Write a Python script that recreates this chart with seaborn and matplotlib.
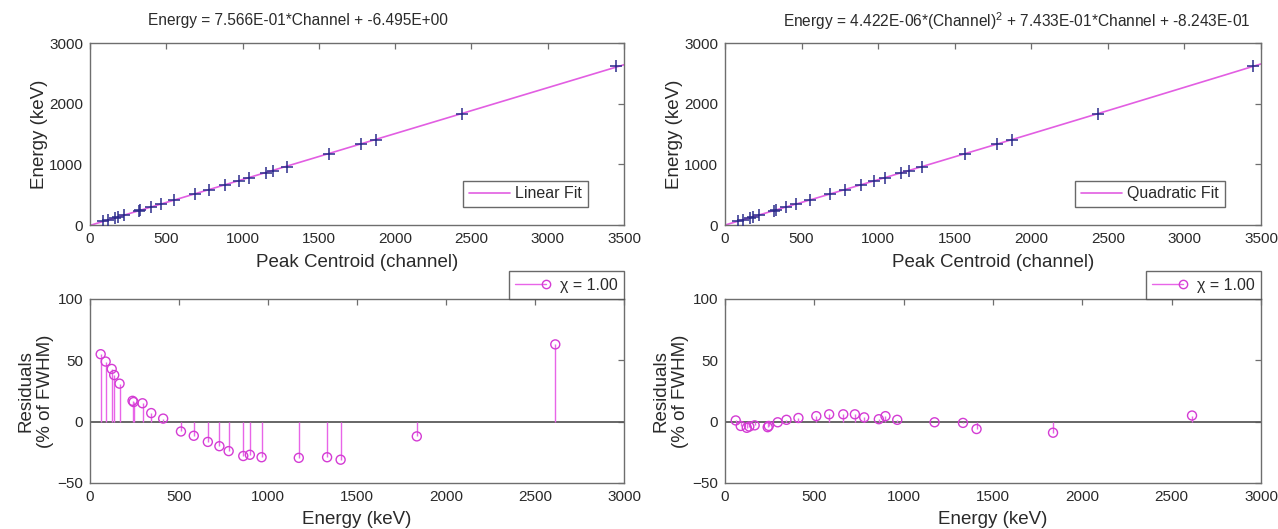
import numpy as np
import pandas as pd
import matplotlib
matplotlib.use("Agg")
import matplotlib.pyplot as plt
from matplotlib.lines import Line2D
from matplotlib.legend_handler import HandlerBase
import seaborn as sns

# Calibration peaks: gamma-line energy (keV) and fitted peak centroid (channel)
energy_kev = [60, 88, 122, 136, 166, 239, 245, 295, 344, 411, 511, 583, 662,
              727, 779, 861, 898, 964, 1173, 1332, 1408, 1836, 2614]
centroid_ch = [82, 119, 165, 184, 224, 322, 330, 397, 463, 552, 686, 782, 887,
               974, 1043, 1152, 1201, 1288, 1565, 1774, 1874, 2436, 3447]

# Residuals of each fit, in percent of peak FWHM
resid_linear = [55, 49, 43, 38, 31, 17, 16, 15, 7, 2.5, -8, -11.5, -16.5,
                -20, -24, -28, -27, -29, -29.5, -29, -31, -12, 63]
resid_quad = [1.0, -3.5, -5.0, -4.0, -3.0, -4.5, -3.5, -0.5, 1.5, 3.0, 4.5, 6.0,
              6.0, 6.0, 3.5, 2.0, 4.5, 1.5, -0.5, -1.0, -6.0, -9.0, 5.0]

# Fit coefficients (as printed in the panel titles)
lin_a, lin_b = 7.566e-01, -6.495e+00
quad_a, quad_b, quad_c = 4.422e-06, 7.433e-01, -8.243e-01

lin_title = "Energy = 7.566E-01*Channel + -6.495E+00"
quad_title = r"Energy = 4.422E-06*(Channel)$^{2}$ + 7.433E-01*Channel + -8.243E-01"
chi_label = "\u03c7 = 1.00"

sns.set_style("white")
plt.rcParams["font.family"] = ["Liberation Sans", "DejaVu Sans"]
plt.rcParams["mathtext.fontset"] = "custom"
plt.rcParams["mathtext.rm"] = "Liberation Sans"

FIT_COLOR = "#e25ee2"
STEM_COLOR = "#e865e8"
CIRC_COLOR = "#d43cd4"
PLUS_COLOR = "#2c2c8c"
AX_COLOR = "#6e6e6e"
TXT_COLOR = "#2a2a2a"
TICK_FS = 11
LABEL_FS = 13.5
TITLE_FS = 11.2
LEG_FS = 11.5

W, H = 1278, 529
fig = plt.figure(figsize=(W / 100, H / 100), dpi=100)


def px_axes(left, top, right, bottom):
    return fig.add_axes([left / W, 1 - bottom / H, (right - left) / W, (bottom - top) / H])


ax_tl = px_axes(90, 43, 624, 225)
ax_tr = px_axes(725, 43, 1261, 225)
ax_bl = px_axes(90, 299, 624, 483)
ax_br = px_axes(725, 299, 1261, 483)

cal = pd.DataFrame({"energy": energy_kev, "channel": centroid_ch,
                    "res_lin": resid_linear, "res_quad": resid_quad})
grid = pd.DataFrame({"channel": np.linspace(0, 3500, 300)})
grid["lin"] = lin_a * grid["channel"] + lin_b
grid["quad"] = quad_a * grid["channel"] ** 2 + quad_b * grid["channel"] + quad_c


def style_axes(ax):
    for s in ax.spines.values():
        s.set_color(AX_COLOR)
        s.set_linewidth(1.0)
    ax.tick_params(direction="in", top=True, right=True, length=4, width=0.9,
                   color=AX_COLOR, labelsize=TICK_FS, labelcolor=TXT_COLOR, pad=5)


# --- Calibration panels -------------------------------------------------------
for ax, col, lab, title, tx in [(ax_tl, "lin", "Linear Fit", lin_title, 298),
                                (ax_tr, "quad", "Quadratic Fit", quad_title, 1017)]:
    sns.lineplot(data=grid, x="channel", y=col, ax=ax, color=FIT_COLOR, lw=1.2,
                 label=lab, zorder=2)
    sns.scatterplot(data=cal, x="channel", y="energy", ax=ax, marker="+", s=70,
                    color=PLUS_COLOR, linewidth=1.1, zorder=3)
    ax.set_xlim(0, 3500)
    ax.set_ylim(0, 3000)
    ax.set_xticks(np.arange(0, 3501, 500))
    ax.set_yticks([0, 1000, 2000, 3000])
    ax.set_xlabel("Peak Centroid (channel)", fontsize=LABEL_FS, color=TXT_COLOR, labelpad=6)
    ax.set_ylabel("Energy (keV)", fontsize=LABEL_FS, color=TXT_COLOR, labelpad=1)
    style_axes(ax)
    leg = ax.legend(loc="lower right", bbox_to_anchor=(0.932, 0.10), fontsize=LEG_FS,
                    frameon=True, fancybox=False, handlelength=2.6, borderpad=0.35,
                    handletextpad=0.3, borderaxespad=0)
    leg.get_frame().set_edgecolor("#444444")
    leg.get_frame().set_linewidth(1.0)
    for t in leg.get_texts():
        t.set_color(TXT_COLOR)
    fig.text(tx / W, 1 - 21 / H, title, ha="center", va="center",
             fontsize=TITLE_FS, color=TXT_COLOR)


# --- Residual panels ----------------------------------------------------------
class StemHandler(HandlerBase):
    def create_artists(self, legend, orig_handle, xdescent, ydescent, width, height,
                       fontsize, trans):
        y = height / 2 - ydescent
        x0, x1 = -xdescent, -xdescent + width
        line = Line2D([x0, x1 - 4], [y, y], color=STEM_COLOR, lw=1.0)
        mark = Line2D([x1 - 4], [y], marker="o", ms=6, mfc="none",
                      mec=CIRC_COLOR, mew=1.0, ls="none")
        line.set_transform(trans)
        mark.set_transform(trans)
        return [line, mark]


for ax, col in [(ax_bl, "res_lin"), (ax_br, "res_quad")]:
    ax.axhline(0, color="#5a5a5a", lw=1.3, zorder=1)
    ax.vlines(cal["energy"], 0, cal[col], color=STEM_COLOR, lw=1.0, zorder=2)
    sns.scatterplot(data=cal, x="energy", y=col, ax=ax, marker="o", s=42,
                    facecolor="none", edgecolor=CIRC_COLOR, linewidth=1.0, zorder=3)
    ax.set_xlim(0, 3000)
    ax.set_ylim(-50, 100)
    ax.set_xticks(np.arange(0, 3001, 500))
    ax.set_yticks([-50, 0, 50, 100])
    ax.set_xlabel("Energy (keV)", fontsize=LABEL_FS, color=TXT_COLOR, labelpad=5)
    ax.set_ylabel("Residuals\n(% of FWHM)", fontsize=LABEL_FS, color=TXT_COLOR,
                  labelpad=2, linespacing=1.25)
    style_axes(ax)
    handle = Line2D([], [])
    leg = ax.legend([handle], [chi_label], handler_map={Line2D: StemHandler()},
                    loc="lower right", bbox_to_anchor=(1.0, 1.0), borderaxespad=0,
                    fontsize=LEG_FS, frameon=True, fancybox=False, handlelength=2.3,
                    borderpad=0.4, handletextpad=0.5)
    leg.get_frame().set_edgecolor("#444444")
    leg.get_frame().set_linewidth(1.0)
    for t in leg.get_texts():
        t.set_color(TXT_COLOR)

fig.savefig("out.png", dpi=100)
